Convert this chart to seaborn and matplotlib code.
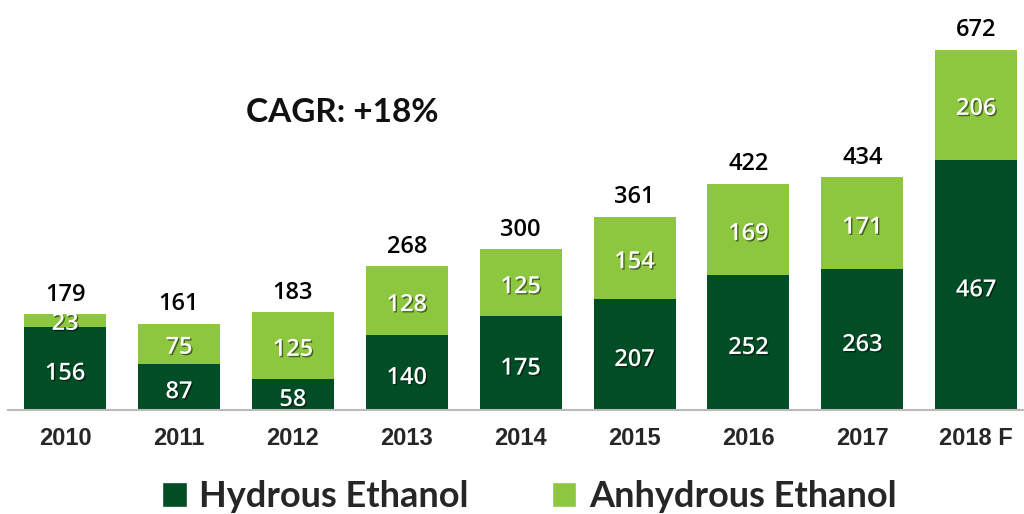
import matplotlib
matplotlib.use("Agg")
import matplotlib.pyplot as plt
import matplotlib.patheffects as pe
from matplotlib.patches import Patch
import pandas as pd
import seaborn as sns

years = ["2010", "2011", "2012", "2013", "2014", "2015", "2016", "2017", "2018 F"]
hydrous = [156, 87, 58, 140, 175, 207, 252, 263, 467]
anhydrous = [23, 75, 125, 128, 125, 154, 169, 171, 206]
totals = [179, 161, 183, 268, 300, 361, 422, 434, 672]

dark = "#004d26"
light = "#8dc63f"

sns.set_theme(style="white")
plt.rcParams["font.family"] = ["Open Sans", "DejaVu Sans"]

df = pd.DataFrame({"year": years, "hydrous": hydrous, "anhydrous": anhydrous, "total": totals})

fig = plt.figure(figsize=(10.24, 5.14), dpi=100)
ax = fig.add_axes([0.008, 0.202, 0.992, 0.798])

# stacked look: full total bar in light green, hydrous part over it in dark green
sns.barplot(data=df, x="year", y="total", color=light, width=0.72, saturation=1,
            linewidth=0, ax=ax)
sns.barplot(data=df, x="year", y="hydrous", color=dark, width=0.72, saturation=1,
            linewidth=0, ax=ax)

shadow = [pe.withSimplePatchShadow(offset=(1, -1), shadow_rgbFace="black", alpha=0.5)]
for i in range(len(years)):
    h, a, t = hydrous[i], anhydrous[i], totals[i]
    ax.text(i, h / 2 - 10, str(h), ha="center", va="center", color="white",
            fontsize=17, fontweight="semibold", path_effects=shadow)
    ax.text(i, max(h + a / 2 - 8, h + 5), str(a), ha="center", va="center", color="white",
            fontsize=17, fontweight="semibold", path_effects=shadow)
    ax.text(i, t + 14, str(t), ha="center", va="bottom", color="black",
            fontsize=17, fontweight="semibold")

ax.text(2.43, 556, "CAGR: +18%", ha="center", va="center", fontsize=24,
        fontweight="bold", family=["Lato", "DejaVu Sans"], color="#111111")

ax.set_xlim(-0.50, 8.42)
ax.set_ylim(0, 765)
ax.set_xlabel("")
ax.set_ylabel("")
ax.set_yticks([])
for s in ["top", "right", "left"]:
    ax.spines[s].set_visible(False)
ax.spines["bottom"].set_color("#bbbbbb")
ax.spines["bottom"].set_linewidth(1.5)
ax.tick_params(axis="x", length=0, pad=12)
for lbl in ax.get_xticklabels():
    lbl.set_fontsize(17)
    lbl.set_fontweight("bold")
    lbl.set_family(["Liberation Sans", "DejaVu Sans"])

handles = [Patch(facecolor=dark, label="Hydrous Ethanol"),
           Patch(facecolor=light, label="Anhydrous Ethanol")]
fig.legend(handles=handles, loc="lower center", bbox_to_anchor=(0.517, -0.062), ncol=2,
           frameon=False, prop={"family": "Lato", "weight": "bold", "size": 26},
           handlelength=0.68, handleheight=0.68, handletextpad=0.35, columnspacing=2.3)

fig.savefig("out.png", dpi=100)
